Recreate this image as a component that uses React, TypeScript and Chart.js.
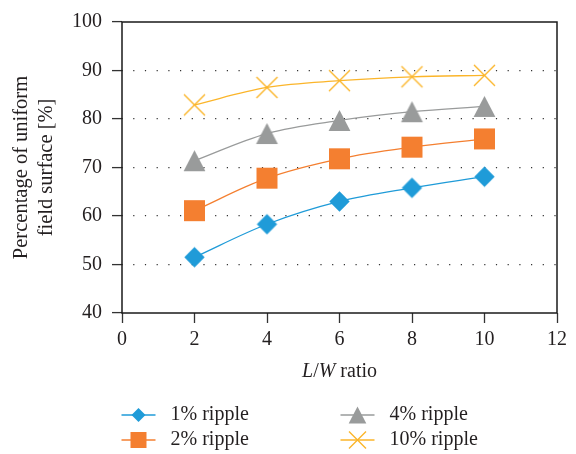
import React, { useEffect, useRef } from 'react';
import { Chart, registerables } from 'chart.js';

Chart.register(...registerables);

// ---- data ----
const lwRatios = [2, 4, 6, 8, 10];
const ripple1 = [51.5, 58.3, 63.0, 65.8, 68.1];
const ripple2 = [61.1, 67.8, 71.8, 74.2, 75.9];
const ripple4 = [71.4, 77.0, 79.7, 81.5, 82.6];
const ripple10 = [82.9, 86.5, 87.9, 88.7, 89.0];
const seriesNames = ['1% ripple', '2% ripple', '4% ripple', '10% ripple'];
const yTitleLines = ['Percentage of uniform', 'field surface [%]'];
const xMin = 0, xMax = 12, xStep = 2;
const yMin = 40, yMax = 100, yStep = 10;

const FONT = '"Liberation Serif", "Times New Roman", serif';
const FS = 20;
const TEXT = '#231f20';
const COLORS = ['#1f9bd8', '#f47f30', '#999b9b', '#fbb52a'];
const MARKERS = ['diamond', 'square', 'triangle', 'x'];

function drawMarker(ctx: CanvasRenderingContext2D, kind: string, x: number, y: number, s: number, color: string) {
  ctx.save();
  ctx.fillStyle = color;
  ctx.strokeStyle = color;
  ctx.beginPath();
  if (kind === 'diamond') {
    ctx.moveTo(x - s, y); ctx.lineTo(x, y - s); ctx.lineTo(x + s, y); ctx.lineTo(x, y + s);
    ctx.closePath(); ctx.fill();
  } else if (kind === 'square') {
    ctx.rect(x - s, y - s, 2 * s, 2 * s); ctx.fill();
  } else if (kind === 'triangle') {
    ctx.moveTo(x, y - s); ctx.lineTo(x + s * 1.04, y + s); ctx.lineTo(x - s * 1.04, y + s);
    ctx.closePath(); ctx.fill();
  } else {
    ctx.lineWidth = 1.4;
    ctx.moveTo(x - s, y - s); ctx.lineTo(x + s, y + s);
    ctx.moveTo(x + s, y - s); ctx.lineTo(x - s, y + s);
    ctx.stroke();
  }
  ctx.restore();
}

function markerImage(kind: string, color: string, s: number) {
  const c = document.createElement('canvas');
  const size = Math.ceil(2 * s + 6);
  c.width = size; c.height = size;
  const ctx = c.getContext('2d')!;
  drawMarker(ctx, kind, size / 2, size / 2, s, color);
  return c;
}

const chartMarkerSizes = [10.2, 10.5, 10.5, 10.5];
const legendMarkerSizes = [7, 8, 8.5, 8.5];

const framePlugin = {
  id: 'frame',
  beforeDatasetsDraw(chart: any) {
    const { ctx, chartArea: a } = chart;
    ctx.save();
    ctx.strokeStyle = '#1a1a1a';
    ctx.lineWidth = 1.5;
    ctx.strokeRect(a.left, a.top, a.right - a.left, a.bottom - a.top);
    ctx.restore();
  },
};

const xTitlePlugin = {
  id: 'xTitle',
  afterDraw(chart: any) {
    const { ctx, chartArea: a } = chart;
    const parts = [
      { t: 'L', italic: true },
      { t: '/', italic: false },
      { t: 'W', italic: true },
      { t: ' ratio', italic: false },
    ];
    ctx.save();
    ctx.fillStyle = TEXT;
    ctx.textBaseline = 'middle';
    ctx.textAlign = 'left';
    let total = 0;
    const widths = parts.map((p) => {
      ctx.font = `${p.italic ? 'italic ' : ''}${FS}px ${FONT}`;
      const w = ctx.measureText(p.t).width;
      total += w;
      return w;
    });
    let x = (a.left + a.right) / 2 - total / 2;
    const y = a.bottom + 59;
    parts.forEach((p, i) => {
      ctx.font = `${p.italic ? 'italic ' : ''}${FS}px ${FONT}`;
      ctx.fillText(p.t, x, y);
      x += widths[i];
    });
    ctx.restore();
  },
};

const legendPlugin = {
  id: 'customLegend',
  afterDraw(chart: any) {
    const { ctx } = chart;
    const slots = [
      [138.5, 415],
      [138.5, 440],
      [357.5, 415],
      [357.5, 440],
    ];
    ctx.save();
    chart.data.datasets.forEach((ds: any, i: number) => {
      const [cx, cy] = slots[i];
      ctx.strokeStyle = ds.borderColor;
      ctx.lineWidth = 1.5;
      ctx.beginPath();
      ctx.moveTo(cx - 17, cy);
      ctx.lineTo(cx + 17, cy);
      ctx.stroke();
      drawMarker(ctx, MARKERS[i], cx, cy, legendMarkerSizes[i], ds.borderColor);
      ctx.fillStyle = TEXT;
      ctx.font = `${FS}px ${FONT}`;
      ctx.textBaseline = 'middle';
      ctx.textAlign = 'left';
      ctx.fillText(ds.label, cx + 32, cy);
    });
    ctx.restore();
  },
};

export default function App() {
  const ref = useRef<HTMLCanvasElement>(null);
  useEffect(() => {
    const series = [ripple1, ripple2, ripple4, ripple10];
    const datasets = series.map((vals, i) => ({
      label: seriesNames[i],
      data: lwRatios.map((x, j) => ({ x, y: vals[j] })),
      borderColor: COLORS[i],
      backgroundColor: COLORS[i],
      borderWidth: 1.3,
      tension: 0.35,
      pointStyle: markerImage(MARKERS[i], COLORS[i], chartMarkerSizes[i]) as any,
      pointRadius: 10,
    }));
    const chart = new Chart(ref.current!, {
      type: 'line',
      data: { datasets },
      plugins: [framePlugin, xTitlePlugin, legendPlugin],
      options: {
        animation: false,
        responsive: true,
        maintainAspectRatio: false,
        layout: { padding: { left: 0, top: 19, right: 19, bottom: 81 } },
        plugins: { legend: { display: false }, tooltip: { enabled: false } },
        scales: {
          x: {
            type: 'linear',
            min: xMin,
            max: xMax,
            afterFit: (s: any) => { s.height = 60; },
            ticks: { stepSize: xStep, padding: 5, color: TEXT, font: { family: FONT, size: FS } },
            grid: { drawOnChartArea: false, tickLength: 10, tickColor: '#333', tickWidth: 1.3 },
            border: { display: false },
          },
          y: {
            min: yMin,
            max: yMax,
            afterFit: (s: any) => { s.width = 122; },
            ticks: { stepSize: yStep, padding: 10, color: TEXT, font: { family: FONT, size: FS } },
            grid: {
              color: (c: any) => (c.tick && (c.tick.value === yMin || c.tick.value === yMax) ? 'rgba(0,0,0,0)' : '#333'),
              lineWidth: 1.2,
              tickLength: 10,
              tickColor: '#333',
              tickWidth: 1.3,
              tickBorderDash: [],
              borderDash: [1.2, 10.5],
              borderDashOffset: 0.5,
            } as any,
            border: { display: false, dash: [1.2, 10.5], dashOffset: 0.5 } as any,
            title: {
              display: true,
              text: yTitleLines,
              color: TEXT,
              font: { family: FONT, size: 20.5, lineHeight: '25px' },
              padding: { top: 9.5, bottom: 0 },
            },
          },
        },
      },
    });
    return () => chart.destroy();
  }, []);
  return (
    <div style={{ position: 'fixed', left: 0, top: 0, width: 576, height: 454, background: '#fff' }}>
      <canvas ref={ref} />
    </div>
  );
}
